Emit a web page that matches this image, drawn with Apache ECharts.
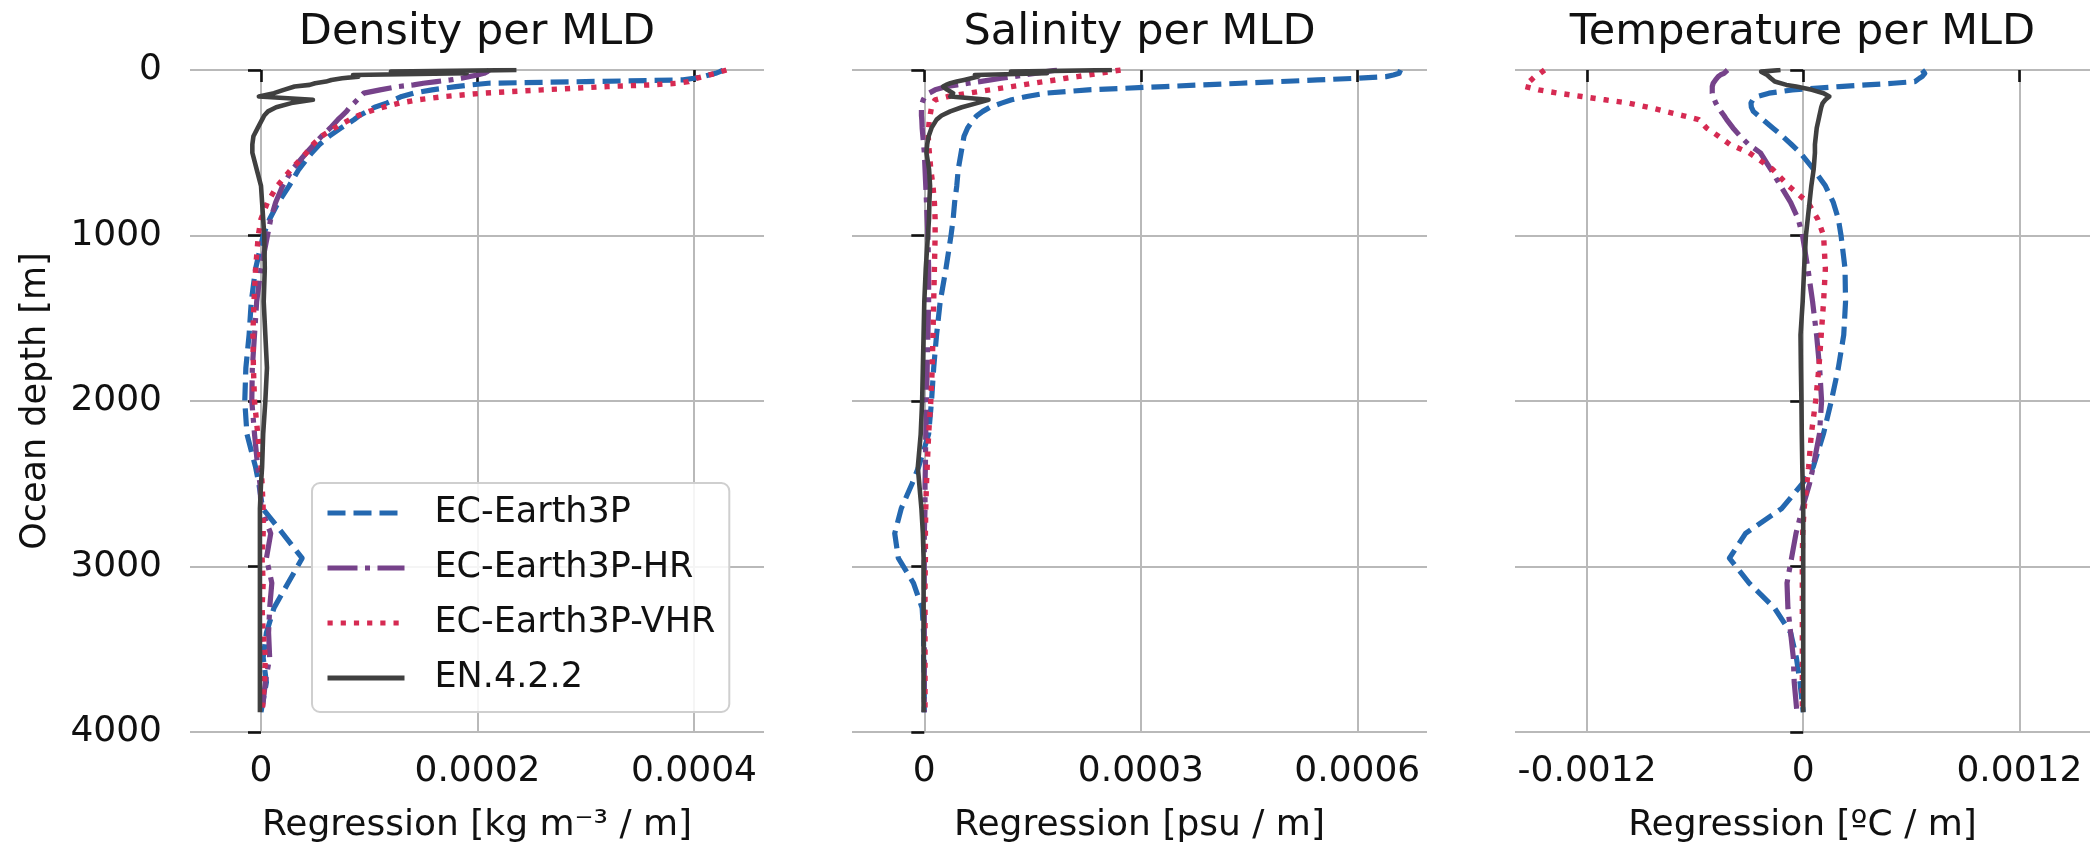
<!DOCTYPE html>
<html><head><meta charset="utf-8">
<script src="https://cdn.jsdelivr.net/npm/echarts@6/dist/echarts.min.js"></script>
<style>html,body{margin:0;padding:0;background:#fff}#c{width:2092px;height:850px}</style>
</head><body><div id="c"></div>
<script>
// Ocean depth levels [m]
const depth = [0,10,20,30,40,50,60,70,80,90,100,120,140,160,180,200,225,250,275,300,350,400,450,500,600,700,800,900,1000,1200,1400,1600,1800,2000,2200,2400,2500,2650,2800,2950,3100,3250,3400,3550,3700,3880];

// Density regression [kg m-3 / m]
const densEC   = [4.27e-4,4.24e-4,4.2e-4,4.14e-4,4.08e-4,4.0e-4,3.9e-4,3.0e-4,2.1e-4,1.94e-4,1.8e-4,1.58e-4,1.41e-4,1.3e-4,1.23e-4,1.16e-4,1.05e-4,9.8e-5,9.1e-5,8.6e-5,7.4e-5,6.3e-5,5.4e-5,4.7e-5,3.5e-5,2.6e-5,1.6e-5,8e-6,2e-6,-5e-6,-9e-6,-1.1e-5,-1.4e-5,-1.5e-5,-1.3e-5,-5e-6,-2e-6,1.5e-6,2e-5,3.8e-5,2.5e-5,1.2e-5,5e-6,2e-6,5e-6,0];
const densHR   = [2.11e-4,2.09e-4,2.06e-4,2.0e-4,1.92e-4,1.85e-4,1.75e-4,1.62e-4,1.5e-4,1.41e-4,1.27e-4,1.1e-4,9.5e-5,9.2e-5,8.9e-5,8.6e-5,8.2e-5,7.9e-5,7.5e-5,7.1e-5,6.4e-5,5.6e-5,4.9e-5,4.2e-5,2.9e-5,2.0e-5,1.35e-5,9e-6,6e-6,0,-4e-6,-6e-6,-8e-6,-8.5e-6,-6e-6,-3e-6,-1e-6,0,9e-6,5e-6,1e-5,8e-6,7e-6,8e-6,4e-6,1e-6];
const densVHR  = [4.3e-4,4.25e-4,4.2e-4,4.14e-4,4.08e-4,4.02e-4,3.98e-4,3.95e-4,3.85e-4,3.6e-4,3.2e-4,2.6e-4,2.05e-4,1.7e-4,1.45e-4,1.28e-4,1.13e-4,1.0e-4,9e-5,8.2e-5,6.8e-5,5.6e-5,4.8e-5,4.2e-5,2.8e-5,1.5e-5,6e-6,0,-2.5e-6,-5e-6,-6.5e-6,-7.5e-6,-7e-6,-6e-6,-3e-6,0,1e-6,2e-6,2e-6,1e-6,2e-6,1e-6,2e-6,4e-6,3e-6,1e-6];
const densEN   = [2.36e-4,1.2e-4,1.9e-4,8.5e-5,9e-5,7.5e-5,6.5e-5,6.0e-5,5.0e-5,4.5e-5,3.1e-5,2.1e-5,1.2e-5,-2e-6,4.8e-5,2.8e-5,1.4e-5,6.5e-6,3e-6,1e-6,-3e-6,-7e-6,-8e-6,-8e-6,-4e-6,0,1e-6,2e-6,3e-6,3.5e-6,2.5e-6,4e-6,5.5e-6,4e-6,2e-6,1e-6,0,-1e-6,-1e-6,-1e-6,-1e-6,-1e-6,-1e-6,-1e-6,-1e-6,-1e-6];

// Salinity regression [psu / m]
const salEC    = [6.6e-4,6.62e-4,6.58e-4,6.5e-4,6.4e-4,5.98e-4,5.45e-4,4.92e-4,4.39e-4,3.86e-4,3.33e-4,2.27e-4,1.68e-4,1.42e-4,1.21e-4,1.07e-4,9.1e-5,8.1e-5,7.3e-5,6.8e-5,6.0e-5,5.5e-5,5.3e-5,5.1e-5,4.7e-5,4.5e-5,4.2e-5,4.0e-5,3.7e-5,3.0e-5,2.2e-5,1.7e-5,1.3e-5,1.0e-5,6e-6,-8e-6,-1.7e-5,-3.2e-5,-4.1e-5,-3.6e-5,-1.5e-5,-3e-6,-1e-6,-1e-6,0,0];
const salHR    = [1.84e-4,1.69e-4,1.53e-4,1.38e-4,1.23e-4,1.07e-4,9.2e-5,7.7e-5,6.1e-5,4.6e-5,3.1e-5,1.5e-5,6.5e-6,1e-6,-1.5e-6,-3e-6,-4e-6,-4e-6,-4e-6,-3.5e-6,-3e-6,-2e-6,-1e-6,0,1e-6,2e-6,3e-6,4e-6,5e-6,6e-6,6e-6,5e-6,4e-6,3e-6,2e-6,1.5e-6,1e-6,1e-6,0,0,0,0,0,0,0,0];
const salVHR   = [2.72e-4,2.57e-4,2.42e-4,2.27e-4,2.12e-4,1.96e-4,1.82e-4,1.66e-4,1.51e-4,1.36e-4,1.21e-4,9.1e-5,6.1e-5,3.3e-5,1.5e-5,1.2e-5,1.0e-5,9e-6,8e-6,7e-6,6e-6,5.5e-6,6e-6,7e-6,9e-6,1.2e-5,1.4e-5,1.5e-5,1.5e-5,1.4e-5,1.3e-5,1.2e-5,1.1e-5,9e-6,6e-6,4e-6,3e-6,2e-6,1.5e-6,1.5e-6,1e-6,1e-6,1e-6,1e-6,1e-6,1e-6];
const salEN    = [2.6e-4,1.2e-4,1.7e-4,7e-5,7.5e-5,6.5e-5,5.5e-5,4.5e-5,3.6e-5,3.0e-5,2.6e-5,3.2e-5,4.0e-5,3.6e-5,8.9e-5,7.3e-5,5.2e-5,3.6e-5,2.4e-5,1.7e-5,1.0e-5,6e-6,4e-6,3e-6,6.6e-6,8e-6,7e-6,6.5e-6,5e-6,2e-6,0,-1e-6,-2e-6,-3e-6,-5e-6,-9e-6,-7e-6,-4e-6,-2e-6,-1e-6,-1e-6,-1e-6,-1e-6,-1e-6,-1e-6,-1e-6];

// Temperature regression [ºC / m]
const tempEC   = [6.6e-4,6.7e-4,6.75e-4,6.7e-4,6.6e-4,6.45e-4,6.35e-4,6.2e-4,5.0e-4,3.5e-4,2.0e-4,-6e-5,-1.9e-4,-2.56e-4,-2.8e-4,-2.9e-4,-2.88e-4,-2.77e-4,-2.5e-4,-2.23e-4,-1.69e-4,-1.15e-4,-6.5e-5,-1.7e-5,5.8e-5,1.23e-4,1.67e-4,1.95e-4,2.1e-4,2.32e-4,2.35e-4,2.25e-4,1.95e-4,1.56e-4,1.12e-4,5.5e-5,-5e-6,-1.2e-4,-3.2e-4,-4.1e-4,-3.0e-4,-1.6e-4,-7e-5,-3.8e-5,-1.8e-5,0];
const tempHR   = [-4.2e-4,-4.3e-4,-4.4e-4,-4.6e-4,-4.72e-4,-4.8e-4,-4.87e-4,-4.94e-4,-5.0e-4,-5.02e-4,-5.05e-4,-5.05e-4,-5.05e-4,-5.0e-4,-4.93e-4,-4.85e-4,-4.72e-4,-4.57e-4,-4.4e-4,-4.25e-4,-3.9e-4,-3.5e-4,-3.03e-4,-2.38e-4,-1.8e-4,-1.26e-4,-7e-5,-2.8e-5,-4e-6,2.6e-5,5.2e-5,7.4e-5,9.1e-5,1.02e-4,9e-5,5.5e-5,3.5e-5,-5e-6,-4e-5,-6.5e-5,-9e-5,-8.5e-5,-7e-5,-5.5e-5,-5e-5,-3.5e-5];
const tempVHR  = [-1.436e-3,-1.447e-3,-1.46e-3,-1.475e-3,-1.49e-3,-1.5e-3,-1.51e-3,-1.52e-3,-1.53e-3,-1.54e-3,-1.545e-3,-1.47e-3,-1.36e-3,-1.23e-3,-1.1e-3,-9.7e-4,-8.6e-4,-7.65e-4,-6.7e-4,-5.8e-4,-5.37e-4,-4.7e-4,-4.07e-4,-3.0e-4,-1.7e-4,-8.2e-5,2.6e-5,8e-5,1.13e-4,1.23e-4,1.13e-4,1.0e-4,8.7e-5,6.9e-5,4.5e-5,3e-5,2e-5,5e-6,-3e-6,-5e-6,-5e-6,-5e-6,-5e-6,-5e-6,-5e-6,-5e-6];
const tempEN   = [-1.26e-4,-2.34e-4,-2.25e-4,-2.0e-4,-1.9e-4,-1.8e-4,-1.69e-4,-1.58e-4,-1.47e-4,-9.3e-5,-3.9e-5,4.8e-5,1.13e-4,1.45e-4,1.23e-4,1.08e-4,1.0e-4,9.5e-5,9e-5,8.5e-5,7.5e-5,7e-5,6.5e-5,6.5e-5,5.8e-5,4.5e-5,3.5e-5,2.5e-5,1.5e-5,5e-6,-3e-6,-1.5e-5,-1.3e-5,-1e-5,-8e-6,-5e-6,-3e-6,0,0,0,0,0,0,0,0,0];

const seriesNames = ['EC-Earth3P','EC-Earth3P-HR','EC-Earth3P-VHR','EN.4.2.2'];
const panelData = [
  [densEC, densHR, densVHR, densEN],
  [salEC, salHR, salVHR, salEN],
  [tempEC, tempHR, tempVHR, tempEN]
];
const titles = ['Density per MLD','Salinity per MLD','Temperature per MLD'];
const xNames = ['Regression [kg m\u207B\u00B3 / m]','Regression [psu / m]','Regression [\u00BAC / m]'];
const xTickValues = [[0,0.0002,0.0004],[0,0.0003,0.0006],[-0.0012,0,0.0012]];
const xTickLabels = [['0','0.0002','0.0004'],['0','0.0003','0.0006'],['-0.0012','0','0.0012']];
const xLimits = [[-0.0000656,0.0004647],[-0.0001002,0.0006966],[-0.0016,0.001592]];
const yLabel = 'Ocean depth [m]';

const FONT = '"DejaVu Sans", "Noto Sans", sans-serif';
const colors = ['#2468b0','#76428a','#d62a52','#404040'];
const dashes = [[18,8],[30,7.5,5,7.5],[5.2,8],'solid'];
const widths = [5.2,5.2,5.4,4.6];
const gridLeft = [190,852,1515];
const gridWidth = [574,575,575];
const txt = '#111111';

const chart = echarts.init(document.getElementById('c'), null, {renderer:'canvas'});

const grids = gridLeft.map((l,i)=>({left:l, top:70, width:gridWidth[i], height:662, containLabel:false}));
const xAxes = [0,1,2].map(i=>({
  type:'value', gridIndex:i, min:xLimits[i][0], max:xLimits[i][1],
  axisLine:{show:false},
  axisTick:{show:true, length:12, customValues:xTickValues[i], lineStyle:{color:'#111', width:2.6}},
  axisLabel:{show:true, customValues:xTickValues[i], margin:22, fontSize:36, color:txt, fontFamily:FONT,
    formatter:(v)=>{let best=0,bd=Infinity;xTickValues[i].forEach((t,k)=>{const d=Math.abs(t-v);if(d<bd){bd=d;best=k;}});return xTickLabels[i][best];}},
  splitLine:{show:true, lineStyle:{color:'#b9b9b9', width:2}},
  name:xNames[i], nameLocation:'middle', nameGap:76,
  nameTextStyle:{fontSize:36, color:txt, fontFamily:FONT}
}));
const yAxes = [0,1,2].map(i=>({
  type:'value', gridIndex:i, inverse:true, min:0, max:4000, interval:1000,
  axisLine:{show:false},
  axisTick:{show:true, length:13, lineStyle:{color:'#111', width:2.6}},
  axisLabel:{show:i===0, margin:28, fontSize:36, color:txt, fontFamily:FONT, formatter:(v)=>String(v)},
  splitLine:{show:true, lineStyle:{color:'#b9b9b9', width:2}}
}));

const series = [];
panelData.forEach((arrs,i)=>{
  arrs.forEach((vals,s)=>{
    series.push({
      type:'line', name:seriesNames[s], xAxisIndex:i, yAxisIndex:i,
      data: vals.map((v,k)=>[v, depth[k]]),
      symbol:'none', showSymbol:false, smooth:false, silent:true,
      lineStyle:{color:colors[s], width:widths[s], type:dashes[s], cap:'butt', join:'round'},
      itemStyle:{color:colors[s]},
      z: 2+s
    });
  });
});

const graphics = titles.map((t,i)=>({
  type:'text', x:gridLeft[i]+gridWidth[i]/2, y:33,
  style:{text:t, font:'43px '+FONT, fill:'#111', textAlign:'center', textVerticalAlign:'middle', align:'center', verticalAlign:'middle'}
}));
graphics.push({
  type:'text', x:36, y:401, rotation:Math.PI/2,
  style:{text:yLabel, font:'35px '+FONT, fill:'#111', textAlign:'center', textVerticalAlign:'middle', align:'center', verticalAlign:'middle'}
});

chart.setOption({
  animation:false,
  backgroundColor:'#ffffff',
  grid:grids, xAxis:xAxes, yAxis:yAxes, series:series,
  graphic:graphics,
  legend:{
    show:true, orient:'vertical', left:312, top:483, data:seriesNames,
    itemWidth:77, itemHeight:2, itemGap:19,
    padding:[12,14,16,13],
    backgroundColor:'rgba(255,255,255,0.85)', borderColor:'#cfcfcf', borderWidth:2, borderRadius:8,
    itemStyle:{opacity:0},
    lineStyle:{width:5},
    textStyle:{fontSize:35, color:txt, fontFamily:FONT, padding:[0,0,0,25], lineHeight:36},
    selectedMode:false
  }
});
</script>
</body></html>
